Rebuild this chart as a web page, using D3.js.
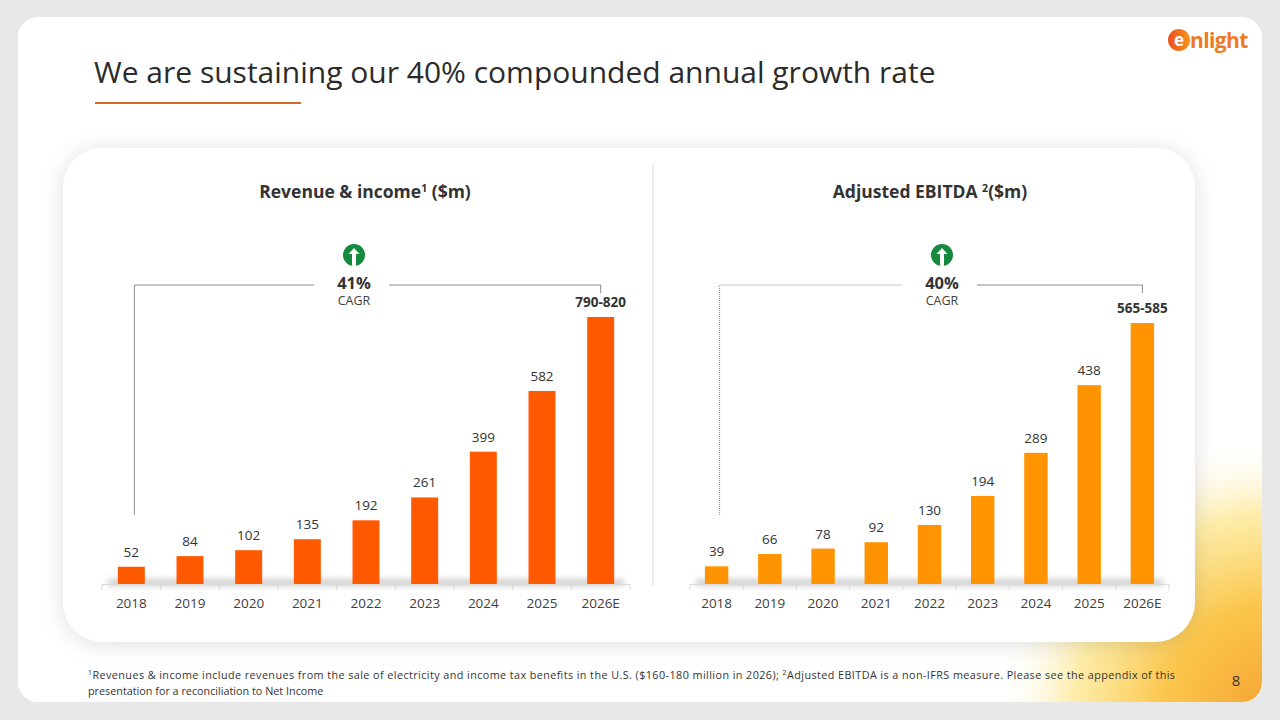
<!DOCTYPE html>
<html>
<head>
<meta charset="utf-8">
<script src="https://cdn.jsdelivr.net/npm/d3@7"></script>
<style>
  body { margin: 0; background: #e8e8e8; }
  svg { display: block; font-family: "Open Sans", "Noto Sans", sans-serif; }
</style>
</head>
<body>
<div id="slide"></div>
<script>
// Data
var years = ["2018", "2019", "2020", "2021", "2022", "2023", "2024", "2025", "2026E"];
var revenue = [52, 84, 102, 135, 192, 261, 399, 582, 805];
var revenueLabels = ["52", "84", "102", "135", "192", "261", "399", "582", "790-820"];
var ebitda = [39, 66, 78, 92, 130, 194, 289, 438, 575];
var ebitdaLabels = ["39", "66", "78", "92", "130", "194", "289", "438", "565-585"];

var W = 1280, H = 720;
var baseY = 584;

var svg = d3.select('#slide')
  .append('svg')
  .attr('width', W)
  .attr('height', H)

var defs = svg.append("defs")

var shadow = defs.append("filter").attr("id", "cardShadow")
  .attr("x", "-10%").attr("y", "-10%").attr("width", "120%").attr("height", "125%")
shadow.append("feDropShadow")
  .attr("dx", 0).attr("dy", 2).attr("stdDeviation", 11)
  .attr("flood-color", "#000").attr("flood-opacity", 0.13)

var blur = defs.append("filter").attr("id", "axisBlur")
  .attr("x", "-5%").attr("y", "-200%").attr("width", "110%").attr("height", "500%")
blur.append("feGaussianBlur").attr("stdDeviation", 3)

var glow = defs.append("radialGradient").attr("id", "cornerGlow")
  .attr("gradientUnits", "userSpaceOnUse")
  .attr("cx", 1275).attr("cy", 715).attr("r", 280)
glow.append("stop").attr("offset", "0").attr("stop-color", "#f6a233")
glow.append("stop").attr("offset", "0.4").attr("stop-color", "#fbc64c")
glow.append("stop").attr("offset", "0.72").attr("stop-color", "#fde68c").attr("stop-opacity", 0.75)
glow.append("stop").attr("offset", "1").attr("stop-color", "#ffffff").attr("stop-opacity", 0)

var logoGrad = defs.append("linearGradient").attr("id", "logoGrad")
  .attr("x1", "0").attr("x2", "1").attr("y1", "0").attr("y2", "0")
logoGrad.append("stop").attr("offset", "0").attr("stop-color", "#e9501e")
logoGrad.append("stop").attr("offset", "1").attr("stop-color", "#f7941d")

defs.append("clipPath").attr("id", "slideClip")
  .append("rect")
  .attr("x", 18).attr("y", 17).attr("width", 1244).attr("height", 685).attr("rx", 20)

// Slide background
svg.append("rect")
  .attr("x", 18).attr("y", 17).attr("width", 1244).attr("height", 685).attr("rx", 20)
  .style("fill", "#ffffff")

svg.append("rect")
  .attr("clip-path", "url(#slideClip)")
  .attr("x", 900).attr("y", 400).attr("width", 380).attr("height", 320)
  .style("fill", "url(#cornerGlow)")

// Title
svg.append("text")
  .attr("x", 94).attr("y", 83)
  .style("font-size", "30px")
  .style("fill", "#2b2b2b")
  .text("We are sustaining our 40% compounded annual growth rate")

svg.append("line")
  .attr("x1", 95).attr("x2", 301).attr("y1", 103).attr("y2", 103)
  .style("stroke", "#d2672a").style("stroke-width", 2)

// Logo
var logo = svg.append("g").attr("transform", "translate(1168,40)")
logo.append("circle").attr("cx", 11).attr("cy", 0).attr("r", 11).style("fill", "url(#logoGrad)")
logo.append("text").attr("x", 11).attr("y", 6)
  .style("text-anchor", "middle").style("font-size", "17px").style("font-weight", "bold")
  .style("fill", "#fff").text("e")
logo.append("text").attr("x", 22).attr("y", 8)
  .style("font-size", "21px").style("font-weight", "bold").style("letter-spacing", "-0.6px")
  .style("fill", "#f07a22").text("nlight")

// Card
svg.append("rect")
  .attr("x", 63).attr("y", 148).attr("width", 1132).attr("height", 494).attr("rx", 40)
  .style("fill", "#ffffff")
  .attr("filter", "url(#cardShadow)")

svg.append("line")
  .attr("x1", 653).attr("x2", 653).attr("y1", 165).attr("y2", 586)
  .style("stroke", "#d9d9d9").style("stroke-width", 1)

function drawChart(cfg) {
  var g = svg.append("g")

  var x = d3.scaleBand()
    .domain(years)
    .range(cfg.range)
    .paddingInner(cfg.pad)
    .paddingOuter(cfg.pad / 2)

  var y = d3.scaleLinear()
    .domain([0, d3.max(cfg.values)])
    .range([baseY, cfg.topY])

  // chart title
  var t = g.append("text")
    .attr("x", cfg.titleX).attr("y", 198)
    .style("text-anchor", "middle")
    .style("font-size", "17.5px").style("font-weight", "bold")
    .style("fill", "#333")
  t.append("tspan").text(cfg.title[0])
  t.append("tspan").attr("dy", -6).style("font-size", "10.5px").text(cfg.title[1])
  t.append("tspan").attr("dy", 6).text(cfg.title[2])

  // soft shade over the axis line
  g.append("rect")
    .attr("x", cfg.range[0] + 6).attr("y", baseY - 4)
    .attr("width", cfg.range[1] - cfg.range[0] - 12).attr("height", 5)
    .style("fill", "#bdbdbd")
    .attr("filter", "url(#axisBlur)")

  // bars
  g.selectAll(".bar")
    .data(cfg.values)
    .enter()
    .append("rect")
    .attr("class", "bar")
    .attr("x", function (d, i) { return x(years[i]); })
    .attr("y", function (d) { return y(d); })
    .attr("width", x.bandwidth())
    .attr("height", function (d) { return baseY - y(d); })
    .style("fill", cfg.color)

  // value labels
  g.selectAll(".val")
    .data(cfg.values)
    .enter()
    .append("text")
    .attr("class", "val")
    .attr("x", function (d, i) { return x(years[i]) + x.bandwidth() / 2; })
    .attr("y", function (d) { return y(d) - 10; })
    .style("text-anchor", "middle")
    .style("font-size", "13.5px")
    .style("font-weight", function (d, i) { return i == years.length - 1 ? "bold" : "normal"; })
    .style("fill", "#333")
    .text(function (d, i) { return cfg.labels[i]; })

  // x axis
  var axis = g.append("g")
    .attr("transform", "translate(0," + baseY + ")")
    .call(d3.axisBottom(x).tickSize(0).tickPadding(14))
  axis.select(".domain").remove()
  axis.selectAll("text")
    .style("font-family", "'Open Sans', sans-serif")
    .style("font-size", "13.5px")
    .style("fill", "#404040")

  g.append("line")
    .attr("x1", cfg.range[0]).attr("x2", cfg.range[1])
    .attr("y1", baseY + 0.5).attr("y2", baseY + 0.5)
    .style("stroke", "#d9d9d9")

  var step = x.step()
  var bounds = years.map(function (d) { return x(d) - step * cfg.pad / 2; })
  bounds.push(cfg.range[1])
  g.selectAll(".tk")
    .data(bounds)
    .enter()
    .append("line")
    .attr("x1", function (d) { return d; }).attr("x2", function (d) { return d; })
    .attr("y1", baseY).attr("y2", baseY + 6)
    .style("stroke", "#d9d9d9")

  // CAGR bracket
  var xFirst = x(years[0]) + x.bandwidth() / 2 + 3
  var xLast = x(years[years.length - 1]) + x.bandwidth() / 2
  var lineY = 285
  g.append("path")
    .attr("d", "M" + xFirst + "," + 515 + "V" + lineY + "H" + (cfg.cagrX - 40))
    .style("fill", "none").style("stroke", "#8c8c8c")
    .style("stroke-dasharray", cfg.dotted ? "1,1" : null)
  g.append("path")
    .attr("d", "M" + (cfg.cagrX + 35) + "," + lineY + "H" + xLast + "V" + (lineY + 8))
    .style("fill", "none").style("stroke", "#8c8c8c")

  var icon = g.append("g").attr("transform", "translate(" + cfg.cagrX + ",255)")
  icon.append("circle").attr("r", 11).style("fill", "#158a3f")
  icon.append("path")
    .attr("d", "M0,-7 L5.5,-1 L2,-1 L2,11 L-2,11 L-2,-1 L-5.5,-1 Z")
    .style("fill", "#ffffff")

  g.append("text")
    .attr("x", cfg.cagrX).attr("y", 289)
    .style("text-anchor", "middle").style("font-size", "16.5px").style("font-weight", "bold")
    .style("fill", "#333")
    .text(cfg.cagr)
  g.append("text")
    .attr("x", cfg.cagrX).attr("y", 305)
    .style("text-anchor", "middle").style("font-size", "12.5px")
    .style("fill", "#404040")
    .text("CAGR")
}

drawChart({
  values: revenue, labels: revenueLabels, range: [102, 630], pad: 0.54,
  topY: 317, color: "#ff5a00", title: ["Revenue & income", "1", " ($m)"], titleX: 365,
  cagr: "41%", cagrX: 354, dotted: false
})

drawChart({
  values: ebitda, labels: ebitdaLabels, range: [690, 1169], pad: 0.56,
  topY: 323, color: "#ff9300", title: ["Adjusted EBITDA ", "2", "($m)"], titleX: 930,
  cagr: "40%", cagrX: 942, dotted: true
})

// Footnote
var foot = svg.append("text")
  .attr("x", 88).attr("y", 679)
  .attr("textLength", 1087).attr("lengthAdjust", "spacing")
  .style("font-size", "10.8px")
  .style("fill", "#333")
foot.append("tspan").attr("dy", -4).style("font-size", "7px").text("1")
foot.append("tspan").attr("dy", 4).text("Revenues & income include revenues from the sale of electricity and income tax benefits in the U.S. ($160-180 million in 2026); ")
foot.append("tspan").attr("dy", -4).style("font-size", "7px").text("2")
foot.append("tspan").attr("dy", 4).text("Adjusted EBITDA is a non-IFRS measure. Please see the appendix of this")
svg.append("text")
  .attr("x", 88).attr("y", 695)
  .style("font-size", "10.8px")
  .style("fill", "#333")
  .text("presentation for a reconciliation to Net Income")

svg.append("text")
  .attr("x", 1236).attr("y", 686)
  .style("text-anchor", "middle")
  .style("font-size", "15px")
  .style("fill", "#333")
  .text("8")
</script>
</body>
</html>
